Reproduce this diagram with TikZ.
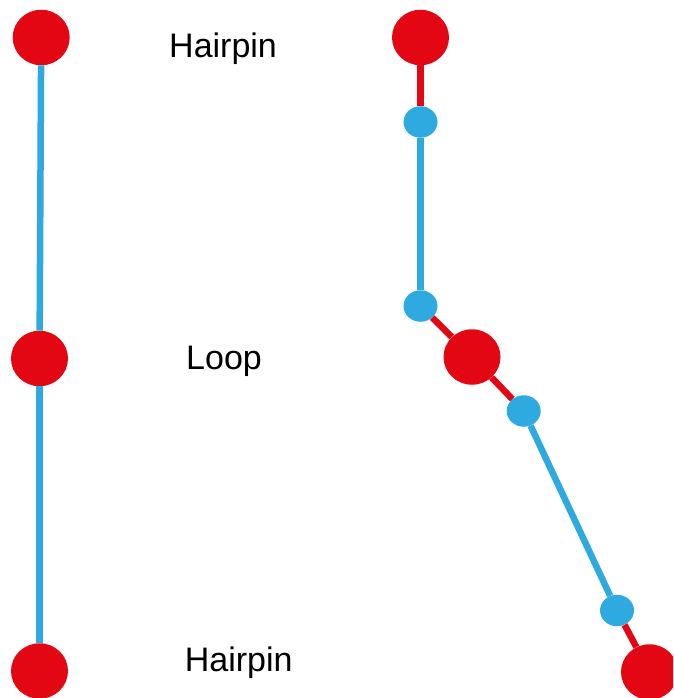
\documentclass[tikz,border=0pt]{standalone}
\usepackage{fontspec}
\setmainfont{Liberation Sans}
\usetikzlibrary{shapes.geometric}
\definecolor{hred}{RGB}{227,6,19}
\definecolor{hblue}{RGB}{46,170,225}
\tikzset{
  bigdot/.style={ellipse, fill=hred, inner sep=0pt, minimum width=57pt, minimum height=55.5pt},
  smalldot/.style={ellipse, fill=hblue, inner sep=0pt, minimum width=34pt, minimum height=31.5pt},
  redline/.style={draw=hred, line width=6.5pt},
  blueline/.style={draw=hblue, line width=6.5pt},
  lbl/.style={anchor=base west, inner sep=0pt, font=\fontsize{34}{40}\selectfont}
}
\begin{document}
\begin{tikzpicture}[x=1pt, y=-1pt]
\useasboundingbox (0,0) rectangle (673,698);
\clip (0,0) rectangle (673,698);
% left column
\node[bigdot] (L1) at (41.2,37.5) {};
\node[bigdot] (L2) at (39.5,358.5) {};
\node[bigdot] (L3) at (39.5,671) {};
\draw[blueline] (L1) -- (L2);
\draw[blueline] (L2) -- (L3);
% right chain
\node[bigdot] (R1) at (420.5,37.5) {};
\node[smalldot] (B1) at (420.5,122) {};
\node[smalldot] (B2) at (420.5,306) {};
\node[bigdot] (R2) at (472,357) {};
\node[smalldot] (B3) at (523.7,411) {};
\node[smalldot] (B4) at (617,610.5) {};
\node[bigdot] (R3) at (649.5,672) {};
\draw[redline] (R1) -- (B1);
\draw[blueline] (B1) -- (B2);
\draw[redline] (B2) -- (R2);
\draw[redline] (R2) -- (B3);
\draw[blueline] (B3) -- (B4);
\draw[redline] (B4) -- (R3);
% labels
\node[lbl] (t1) at (169,57.3) {Hairpin};
\node[lbl] (t2) at (186,369) {Loop};
\node[lbl] (t3) at (184.6,671.7) {Hairpin};
\end{tikzpicture}
\end{document}
